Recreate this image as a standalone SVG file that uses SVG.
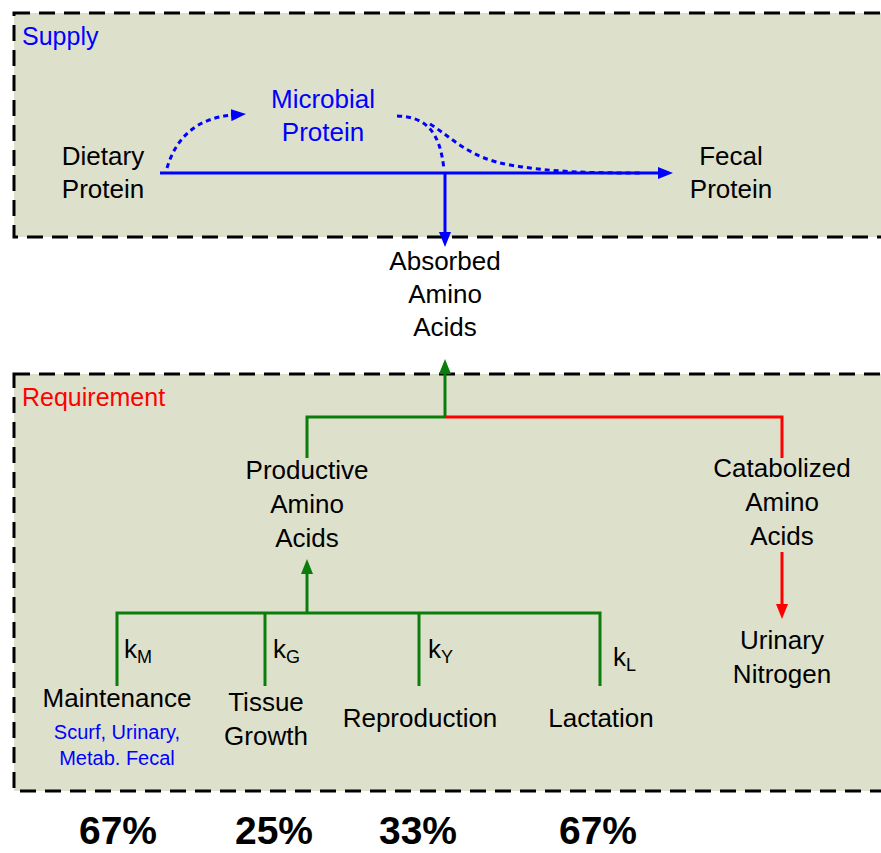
<svg xmlns="http://www.w3.org/2000/svg" width="881" height="853" viewBox="0 0 881 853">
<style>
.box{fill:#dde1cb;stroke:#000;stroke-width:3;stroke-dasharray:16 9}
text{font-family:"Liberation Sans",Arial,sans-serif;font-size:26px;text-anchor:middle;fill:#000}
.blue{fill:#0000ff}
.red{fill:#ff0000}
.sm{font-size:20px}
.pct{font-size:39px;font-weight:bold}
.lbl{text-anchor:start}
.b{stroke:#0000ff;stroke-width:3;fill:none}
.bd{stroke:#0000ff;stroke-width:3;fill:none;stroke-dasharray:5 4}
.g{stroke:#0a7d0a;stroke-width:3;fill:none}
.r{stroke:#ff0000;stroke-width:3;fill:none}
</style>
<defs>
<marker id="ab" markerWidth="15" markerHeight="12" refX="2" refY="6" orient="auto" markerUnits="userSpaceOnUse"><path d="M0,0 L15,6 L0,12 Z" fill="#0000ff"/></marker>
<marker id="ag" markerWidth="15" markerHeight="12" refX="2" refY="6" orient="auto" markerUnits="userSpaceOnUse"><path d="M0,0 L15,6 L0,12 Z" fill="#0a7d0a"/></marker>
<marker id="ar" markerWidth="15" markerHeight="12" refX="2" refY="6" orient="auto" markerUnits="userSpaceOnUse"><path d="M0,0 L15,6 L0,12 Z" fill="#ff0000"/></marker>
</defs>
<g id="supply">
<rect class="box" x="14" y="13" width="890" height="224"/>
<text class="blue lbl" x="22" y="45" style="font-size:25px">Supply</text>
</g>
<g id="requirement">
<rect class="box" x="14" y="374" width="890" height="417"/>
<text class="red lbl" x="22" y="406" style="font-size:25px">Requirement</text>
</g>
<g id="connectors">
<path class="b" d="M160,173 L660,173" marker-end="url(#ab)"/>
<path class="b" d="M445,173 L445,234" marker-end="url(#ab)"/>
<path class="bd" d="M167,168 C176,138 196,118 233,115" marker-end="url(#ab)"/>
<path class="bd" d="M397,116 C425,117 440,130 444,170"/>
<path class="bd" d="M430,124 C455,140 470,158 510,165 C550,172 590,173 640,173"/>
<path class="g" d="M445,417 L445,372" marker-end="url(#ag)"/>
<path class="g" d="M445,417 L307,417 L307,458"/>
<path class="r" d="M445,417 L782,417 L782,458"/>
<path class="g" d="M307,613 L307,572" marker-end="url(#ag)"/>
<path class="r" d="M782,552 L782,606" marker-end="url(#ar)"/>
<path class="g" d="M117,686 L117,613 L600,613 L600,686"/>
<path class="g" d="M265,613 L265,686"/>
<path class="g" d="M419,613 L419,686"/>
</g>
<g id="dietary"><text x="103" y="165">Dietary</text><text x="103" y="198">Protein</text></g>
<g id="microbial"><text class="blue" x="323" y="108">Microbial</text><text class="blue" x="323" y="141">Protein</text></g>
<g id="fecal"><text x="731" y="165">Fecal</text><text x="731" y="198">Protein</text></g>
<g id="absorbed"><text x="445" y="270">Absorbed</text><text x="445" y="303">Amino</text><text x="445" y="336">Acids</text></g>
<g id="productive"><text x="307" y="479">Productive</text><text x="307" y="513">Amino</text><text x="307" y="547">Acids</text></g>
<g id="catabolized"><text x="782" y="477">Catabolized</text><text x="782" y="511">Amino</text><text x="782" y="545">Acids</text></g>
<g id="urinary"><text x="782" y="649">Urinary</text><text x="782" y="683">Nitrogen</text></g>
<g id="maintenance"><text x="117" y="707">Maintenance</text><text class="blue sm" x="117" y="739">Scurf, Urinary,</text><text class="blue sm" x="117" y="765">Metab. Fecal</text></g>
<g id="tissue"><text x="266" y="711">Tissue</text><text x="266" y="745">Growth</text></g>
<g id="reproduction"><text x="420" y="727">Reproduction</text></g>
<g id="lactation"><text x="601" y="727">Lactation</text></g>
<g id="kfactors">
<text class="lbl" x="124" y="658">k<tspan font-size="18" dy="5">M</tspan></text>
<text class="lbl" x="273" y="658">k<tspan font-size="18" dy="5">G</tspan></text>
<text class="lbl" x="428" y="658">k<tspan font-size="18" dy="5">Y</tspan></text>
<text class="lbl" x="613" y="666">k<tspan font-size="18" dy="5">L</tspan></text>
</g>
<g id="percentages">
<text class="pct" x="118" y="844">67%</text>
<text class="pct" x="274" y="844">25%</text>
<text class="pct" x="418" y="844">33%</text>
<text class="pct" x="598" y="844">67%</text>
</g>
</svg>
